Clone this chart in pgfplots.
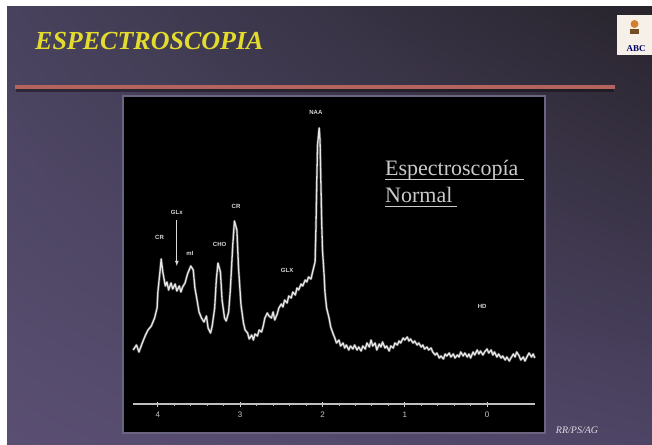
\documentclass[border=0pt]{standalone}
\usepackage{fontspec}
\setmainfont{Liberation Serif}
\setsansfont{Liberation Sans}
\usepackage{pgfplots}
\usepackage{pgfplotstable}
\usetikzlibrary{shadings}
\pgfplotsset{compat=1.18}
\definecolor{bgUL}{HTML}{48425E}
\definecolor{bgUR}{HTML}{28242C}
\definecolor{bgLL}{HTML}{5A4F72}
\definecolor{bgLR}{HTML}{4E4566}
\definecolor{titleyellow}{HTML}{E4DC2C}
\definecolor{redline}{HTML}{B4645C}
\definecolor{specwhite}{HTML}{E6E6E6}
\definecolor{txtgray}{HTML}{CACACA}
\definecolor{panelborder}{HTML}{6A6480}

\pgfplotstableread{
ppm I
4.30 54
4.26 59
4.23 52
4.19 61
4.15 69
4.12 74
4.08 78
4.04 86
4.01 96
4.00 112
3.97 136
3.96 145
3.94 132
3.91 118
3.89 122
3.87 114
3.84 121
3.82 115
3.79 120
3.77 113
3.74 118
3.72 112
3.70 117
3.67 121
3.64 130
3.60 138
3.57 134
3.55 116
3.52 102
3.50 92
3.47 86
3.44 82
3.41 88
3.39 76
3.36 71
3.34 78
3.31 96
3.29 124
3.27 141
3.24 132
3.22 104
3.19 86
3.17 83
3.14 92
3.12 114
3.09 159
3.07 183
3.04 174
3.02 136
2.99 99
2.96 81
2.94 74
2.91 71
2.89 65
2.86 69
2.84 64
2.82 70
2.79 68
2.77 74
2.74 72
2.72 78
2.70 86
2.67 91
2.65 88
2.62 86
2.60 92
2.58 84
2.55 90
2.53 96
2.50 100
2.48 97
2.46 104
2.43 101
2.41 108
2.38 106
2.36 112
2.33 109
2.31 116
2.29 114
2.26 120
2.24 118
2.21 124
2.19 122
2.17 127
2.14 125
2.12 132
2.09 142
2.08 174
2.07 219
2.06 259
2.04 276
2.03 264
2.02 224
2.01 184
2.00 154
1.98 129
1.97 112
1.95 96
1.92 86
1.90 77
1.87 70
1.85 66
1.83 61
1.80 64
1.78 58
1.75 61
1.73 56
1.71 59
1.68 54
1.66 58
1.63 55
1.61 59
1.58 54
1.56 57
1.53 53
1.51 58
1.48 55
1.46 61
1.43 57
1.41 64
1.39 58
1.36 61
1.34 54
1.31 60
1.29 57
1.27 62
1.24 56
1.22 58
1.19 53
1.17 58
1.14 56
1.12 61
1.09 59
1.07 63
1.05 61
1.02 66
1.00 64
0.97 67
0.95 63
0.93 65
0.90 61
0.88 63
0.85 59
0.83 61
0.80 57
0.78 59
0.76 55
0.73 57
0.71 54
0.68 56
0.66 52
0.63 49
0.61 51
0.58 46
0.56 48
0.53 45
0.51 50
0.49 48
0.46 51
0.44 47
0.41 50
0.39 46
0.36 49
0.34 47
0.32 52
0.29 48
0.27 51
0.24 47
0.22 50
0.20 46
0.17 52
0.15 49
0.12 54
0.10 50
0.08 53
0.05 49
0.03 52
0.00 55
-0.02 51
-0.05 54
-0.07 49
-0.09 52
-0.12 47
-0.14 50
-0.17 46
-0.19 48
-0.22 44
-0.24 47
-0.27 43
-0.29 46
-0.32 50
-0.34 47
-0.36 52
-0.39 48
-0.41 44
-0.44 47
-0.46 43
-0.49 48
-0.51 51
-0.54 47
-0.56 50
-0.58 46
}\spec

\begin{document}
\begin{tikzpicture}[x=1pt,y=1pt]
\useasboundingbox (0,0) rectangle (652,444);
% white page
\fill[white] (0,0) rectangle (652,444);
% slide background
\shade[upper left=bgUL, upper right=bgUR, lower left=bgLL, lower right=bgLR] (7,0) rectangle (652,437);
% title
\node[anchor=base west, inner sep=0pt, text=titleyellow, font=\fontsize{26}{28}\selectfont\bfseries\itshape] at (35,394) {ESPECTROSCOPIA};
% separator line
\draw[line width=5pt, color=black!60!bgUR, opacity=0.5] (16,354) -- (614,354);
\draw[line width=3.5pt, color=redline] (15,357) -- (615,357);
% logo
\fill[white!88!brown] (617,389) rectangle (652,429);
\fill[brown!70!orange] (634.5,420) circle (4);
\fill[brown!60!black] (630,410) rectangle (639,415);
\node[anchor=base, inner sep=0pt, text=blue!40!black, font=\fontsize{9}{10}\selectfont\bfseries] at (636,392) {ABC};
% black panel
\fill[black] (123,11) rectangle (545,348);
\draw[panelborder, line width=1.2pt] (123,11) rectangle (545,348);
% footer
\node[anchor=center, inner sep=0pt, text=white!80!bgLR, font=\fontsize{10}{12}\selectfont\itshape] at (577,14) {RR/PS/AG};
% note text
\node[anchor=base west, inner sep=0pt, text=txtgray, font=\fontsize{22}{24}\selectfont] (l1) at (385,268) {Espectroscopía};
\draw[txtgray, line width=1pt] (l1.base west) ++(0,-4) -- ++(139,0);
\node[anchor=base west, inner sep=0pt, text=txtgray, font=\fontsize{22}{24}\selectfont] (l2) at (385,241) {Normal};
\draw[txtgray, line width=1pt] (l2.base west) ++(0,-4) -- ++(72,0);

\begin{axis}[
  at={(133.2pt,40pt)}, anchor=south west,
  scale only axis, width=401.6pt, height=300pt,
  xmin=-0.58, xmax=4.30, ymin=0, ymax=300,
  x dir=reverse,
  axis x line=bottom, axis y line=none,
  axis line style={-, color=white!75!black, line width=1.4pt},
  x axis line style={-},
  xtick={0,1,2,3,4}, xticklabels={0,1,2,3,4},
  minor x tick num=4,
  tick align=center,
  major tick length=5pt, minor tick length=3pt,
  every tick/.style={color=white!85!black, line width=1.1pt},
  every minor tick/.style={color=white!70!black, line width=0.8pt},
  xticklabel style={font=\sffamily\fontsize{8}{9}\selectfont, text=white!78!black, yshift=-2pt},
  clip=false,
]
\addplot[color=white!60!black, line width=2.6pt, opacity=0.45, line join=round] table[x=ppm, y=I] {\spec};
\addplot[color=specwhite, line width=1.3pt, line join=round] table[x=ppm, y=I] {\spec};
\begin{scope}[every node/.style={text=white!85!black, font=\sffamily\bfseries\fontsize{6}{7}\selectfont, inner sep=0pt}]
\node at (axis cs:2.08,292) {NAA};
\node at (axis cs:3.98,167) {CR};
\node at (axis cs:3.77,192) {GLx};
\node at (axis cs:3.61,151) {mI};
\node at (axis cs:3.25,160) {CHO};
\node at (axis cs:3.05,198) {CR};
\node at (axis cs:2.43,134) {GLX};
\node at (axis cs:0.06,98) {HD};
\end{scope}
\draw[-latex, white!85!black, line width=0.8pt] (axis cs:3.77,184) -- (axis cs:3.77,138);
\end{axis}
\end{tikzpicture}
\end{document}
